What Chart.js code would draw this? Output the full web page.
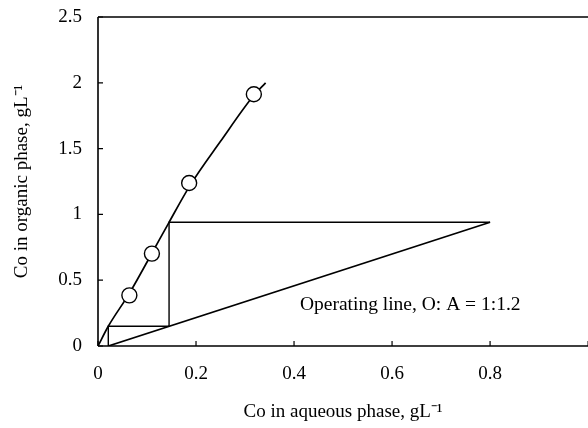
<!DOCTYPE html>
<html>
<head>
<meta charset="utf-8">
<script src="https://cdn.jsdelivr.net/npm/chart.js@4.4.0/dist/chart.umd.min.js"></script>
<style>
  html, body { margin: 0; padding: 0; background: #fff; overflow: hidden; }
  #wrap { width: 588px; height: 428px; position: relative; overflow: hidden; }
</style>
</head>
<body>
<div id="wrap"><canvas id="c" width="597" height="428"></canvas></div>
<script>
// ---- data ----
const xTicks = [0, 0.2, 0.4, 0.6, 0.8, 1];
const yTicks = [0, 0.5, 1, 1.5, 2, 2.5];

// experimental equilibrium points (circles)
const expX = [0.064, 0.110, 0.186, 0.318];
const expY = [0.385, 0.702, 1.239, 1.913];

// equilibrium (isotherm) line
const eqX = [0, 0.021, 0.064, 0.110, 0.145, 0.187, 0.250, 0.318, 0.342];
const eqY = [0, 0.150, 0.400, 0.705, 0.940, 1.215, 1.555, 1.905, 2.000];

// operating line
const opX = [0.021, 0.800];
const opY = [0, 0.940];

// McCabe-Thiele stages
const stepX = [0.800, 0.145, 0.145, 0.021, 0.021];
const stepY = [0.940, 0.940, 0.150, 0.150, 0];

const annText = 'Operating line, O: A = 1:1.2';
const annPos = [0.412, 0.31];

const xTitle = 'Co in aqueous phase, gL\u207B\u00B9';
const yTitle = 'Co in organic phase, gL\u207B\u00B9';

const FONT = '"Liberation Serif", "Times New Roman", serif';

const pts = (xs, ys) => xs.map((x, i) => ({ x: x, y: ys[i] }));

const framePlugin = {
  id: 'frame',
  afterDraw(chart) {
    const ctx = chart.ctx;
    const a = chart.chartArea;
    const xs = chart.scales.x, ys = chart.scales.y;
    ctx.save();
    ctx.strokeStyle = '#000';
    ctx.lineWidth = 1.6;
    ctx.beginPath();
    ctx.moveTo(a.left, a.top); ctx.lineTo(a.right + 2, a.top);
    ctx.moveTo(a.left, a.top); ctx.lineTo(a.left, a.bottom);
    ctx.moveTo(a.left, a.bottom); ctx.lineTo(a.right + 2, a.bottom);
    ctx.stroke();
    ctx.lineWidth = 1.2;
    ctx.beginPath();
    xTicks.forEach(v => {
      const p = xs.getPixelForValue(v);
      ctx.moveTo(p, a.bottom); ctx.lineTo(p, a.bottom - 5);
    });
    yTicks.forEach(v => {
      const p = ys.getPixelForValue(v);
      ctx.moveTo(a.left, p); ctx.lineTo(a.left + 5, p);
    });
    ctx.stroke();
    // annotation
    ctx.fillStyle = '#000';
    ctx.font = '19.5px ' + FONT;
    ctx.textAlign = 'left';
    ctx.textBaseline = 'middle';
    ctx.fillText(annText, xs.getPixelForValue(annPos[0]), ys.getPixelForValue(annPos[1]));
    ctx.restore();
  }
};

new Chart(document.getElementById('c'), {
  type: 'scatter',
  data: {
    datasets: [
      {
        label: 'Experimental',
        data: pts(expX, expY),
        showLine: false,
        pointRadius: 7.5,
        pointBackgroundColor: '#fff',
        pointBorderColor: '#000',
        pointBorderWidth: 1.4,
        order: 0
      },
      {
        label: 'Equilibrium',
        data: pts(eqX, eqY),
        showLine: true,
        borderColor: '#000',
        borderWidth: 1.7,
        pointRadius: 0,
        tension: 0.3,
        cubicInterpolationMode: 'monotone',
        order: 1
      },
      {
        label: 'Operating line',
        data: pts(opX, opY),
        showLine: true,
        borderColor: '#000',
        borderWidth: 1.7,
        pointRadius: 0,
        order: 2
      },
      {
        label: 'Stages',
        data: pts(stepX, stepY),
        showLine: true,
        borderColor: '#000',
        borderWidth: 1.4,
        pointRadius: 0,
        order: 3
      }
    ]
  },
  options: {
    responsive: false,
    animation: false,
    devicePixelRatio: 1,
    layout: { padding: { top: 17, left: 0, right: 0, bottom: 0 } },
    plugins: { legend: { display: false }, tooltip: { enabled: false } },
    scales: {
      x: {
        type: 'linear',
        min: 0, max: 1,
        afterBuildTicks: s => { s.ticks = xTicks.map(v => ({ value: v })); },
        afterFit: s => { s.height = 82; s.paddingLeft = 0; s.paddingRight = 0; },
        grid: { display: false, drawTicks: false },
        border: { display: false },
        ticks: {
          padding: 17,
          color: '#000',
          font: { family: FONT, size: 19 },
          maxRotation: 0,
          autoSkip: false,
          callback: v => (v === 1 ? '' : String(v))
        },
        title: {
          display: true,
          text: xTitle,
          color: '#000',
          font: { family: FONT, size: 19 },
          padding: { top: 0, bottom: 5 }
        }
      },
      y: {
        type: 'linear',
        min: 0, max: 2.5,
        afterBuildTicks: s => { s.ticks = yTicks.map(v => ({ value: v })); },
        afterFit: s => { s.width = 98; s.paddingTop = 0; s.paddingBottom = 0; },
        grid: { display: false, drawTicks: false },
        border: { display: false },
        ticks: {
          padding: 16,
          color: '#000',
          font: { family: FONT, size: 19 },
          callback: v => String(v)
        },
        title: {
          display: true,
          text: yTitle,
          color: '#000',
          font: { family: FONT, size: 19 },
          padding: { top: 11, bottom: 0 }
        }
      }
    }
  },
  plugins: [framePlugin]
});
</script>
</body>
</html>
